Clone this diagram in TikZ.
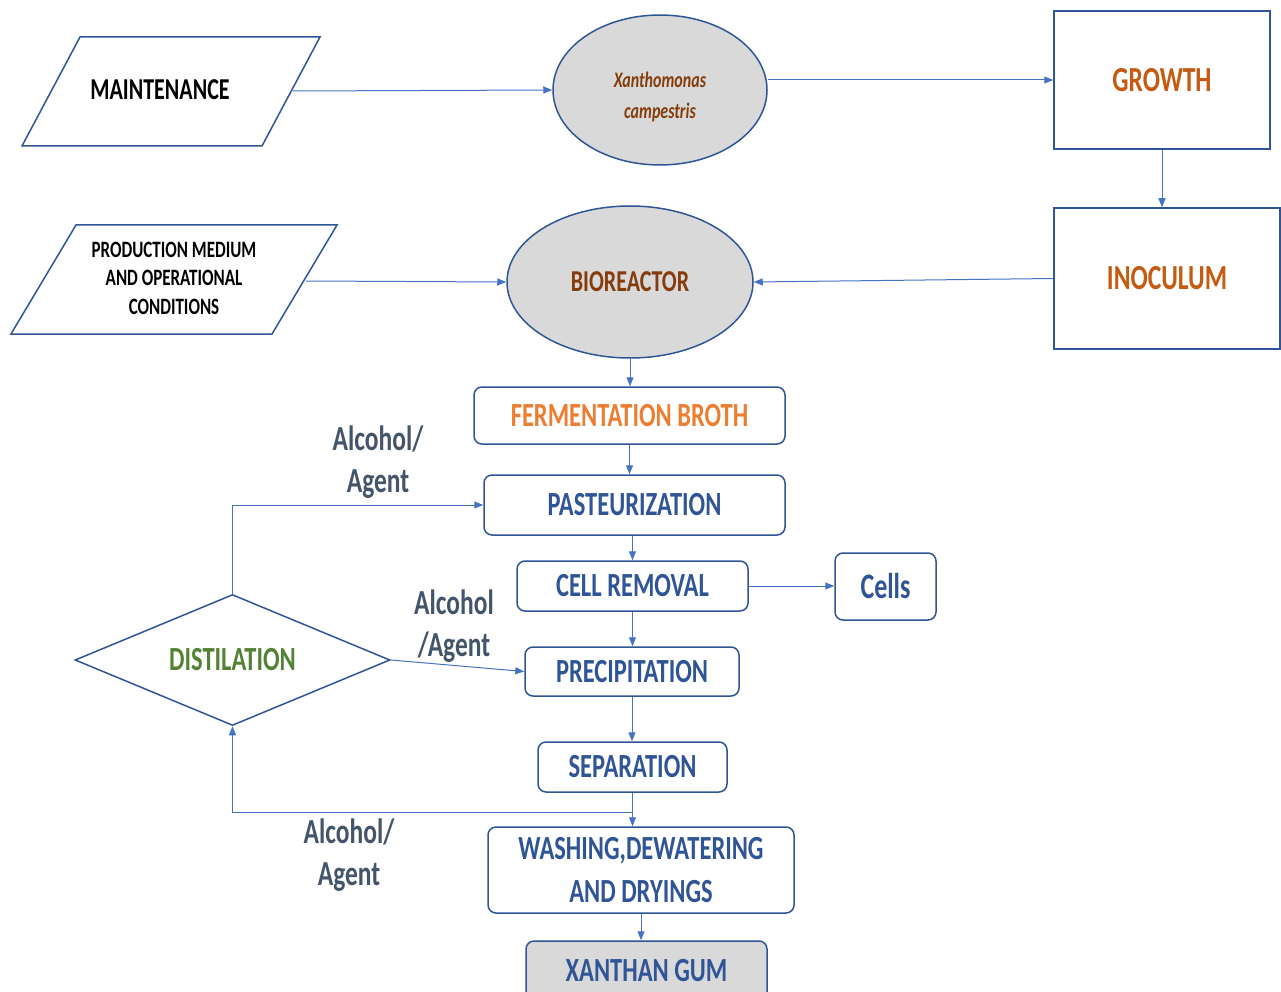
\documentclass[tikz,border=0pt]{standalone}
\usepackage{fontspec}
\usepackage{graphicx}
\setmainfont{Carlito}
\usetikzlibrary{shapes.geometric,arrows.meta,calc}
\definecolor{bdr}{HTML}{2F5597}
\definecolor{arc}{HTML}{4472C4}
\definecolor{btxt}{HTML}{2F5597}
\definecolor{otxt}{HTML}{C55A11}
\definecolor{brtxt}{HTML}{843C0C}
\definecolor{ftxt}{HTML}{ED7D31}
\definecolor{gtxt}{HTML}{548235}
\definecolor{ltxt}{HTML}{44546A}
\definecolor{gfill}{HTML}{D9D9D9}
\newcommand{\T}[1]{\scalebox{1}[1.38]{#1}}
\tikzset{
  rbox/.style={draw=bdr, line width=1.5pt, rounded corners=8pt, inner sep=0pt, fill=white,
    text=btxt, align=center, font=\bfseries\fontsize{24.5}{43}\selectfont},
  sqbox/.style={draw=bdr, line width=1.5pt, inner sep=0pt, fill=white,
    text=otxt, font=\bfseries\fontsize{25.5}{30}\selectfont},
  ell/.style={ellipse, draw=bdr, line width=1.5pt, fill=gfill, inner sep=0pt, align=center},
  pgram/.style={draw=bdr, line width=1.5pt},
  lbl/.style={text=ltxt, align=center, inner sep=0pt, font=\bfseries\fontsize{25.5}{42}\selectfont},
  arr/.style={draw=arc, line width=1pt, -{Triangle[length=9pt,width=7pt]}},
}
\begin{document}
\begin{tikzpicture}[x=1pt,y=-1pt]
\useasboundingbox (0,0) rectangle (1281,992);

% parallelograms
\draw[pgram] (80,37) -- (320,37) -- (262,146) -- (22,146) -- cycle;
\node[inner sep=0pt, font=\bfseries\fontsize{22}{26}\selectfont] (maint) at (160,90) {\T{MAINTENANCE}};
\coordinate (mE) at (293,91);

\draw[pgram] (76,225) -- (337,225) -- (272,334) -- (11,334) -- cycle;
\node[inner sep=0pt, align=center, font=\bfseries\fontsize{17}{28.5}\selectfont] (prod) at (174,278)
  {\T{PRODUCTION MEDIUM}\\\T{AND OPERATIONAL}\\\T{CONDITIONS}};
\coordinate (pE) at (306,281);

% ellipses
\node[ell, minimum width=214pt, minimum height=150pt] (xan) at (660,90) {};
\node[inner sep=0pt, align=center, text=brtxt,
  font=\bfseries\itshape\fontsize{16}{31}\selectfont] (xant) at (660,97)
  {\T{Xanthomonas}\\\T{campestris}};
\node[ell, minimum width=246pt, minimum height=152pt, text=brtxt,
  font=\bfseries\fontsize{22}{26}\selectfont] (bio) at (630,282) {\T{BIOREACTOR}};

% square boxes
\node[sqbox, minimum width=216pt, minimum height=138pt] (grow) at (1162,80) {\T{GROWTH}};
\node[sqbox, minimum width=226pt, minimum height=141pt] (inoc) at (1167,278.5) {\T{INOCULUM}};

% process boxes
\node[rbox, minimum width=311pt, minimum height=57pt, text=ftxt] (ferm) at (629.5,415.5) {\T{FERMENTATION BROTH}};
\node[rbox, minimum width=301pt, minimum height=60pt] (past) at (634.5,505) {\T{PASTEURIZATION}};
\node[rbox, minimum width=231pt, minimum height=50pt] (cell) at (632.5,586) {\T{CELL REMOVAL}};
\node[rbox, minimum width=101pt, minimum height=67pt, font=\bfseries\fontsize{26}{30}\selectfont] (cells) at (885.5,586.5) {\T{Cells}};
\node[rbox, minimum width=214pt, minimum height=49pt] (prec) at (632,671.5) {\T{PRECIPITATION}};
\node[rbox, minimum width=189pt, minimum height=50pt] (sep) at (632.5,767) {\T{SEPARATION}};
\node[rbox, minimum width=306pt, minimum height=86pt] (wash) at (641,870) {\T{WASHING,DEWATERING}\\\T{AND DRYINGS}};
\node[rbox, minimum width=241pt, minimum height=60pt, fill=gfill] (gum) at (646.5,971) {\T{XANTHAN GUM}};

% diamond
\node[diamond, aspect=2.4, draw=bdr, line width=1.5pt, minimum width=315pt, minimum height=131pt, inner sep=0pt,
  text=gtxt, font=\bfseries\fontsize{24.5}{30}\selectfont] (dist) at (232.5,660) {\T{DISTILATION}};

% labels
\node[lbl] (l1) at (378,462) {\T{Alcohol/}\\\T{Agent}};
\node[lbl] (l2) at (454,626) {\T{Alcohol}\\\T{/Agent}};
\node[lbl] (l3) at (349,855) {\T{Alcohol/}\\\T{Agent}};

% connectors
\draw[arr] (mE) -- (xan.west);
\draw[arr] (xan.east |- grow.west) -- (grow.west);
\draw[arr] (grow.south) -- (grow.south |- inoc.north);
\draw[arr] (pE) -- (bio.west);
\draw[arr] (inoc.west) -- (bio.east);
\draw[arr] (bio.south) -- (bio.south |- ferm.north);
\draw[arr] (ferm.south) -- (ferm.south |- past.north);
\draw[arr] (past.south -| cell.north) -- (cell.north);
\draw[arr] (cell.south) -- (cell.south |- prec.north);
\draw[arr] (prec.south) -- (prec.south |- sep.north);
\draw[arr] (sep.south) -- (sep.south |- wash.north);
\draw[arr] (wash.south) -- (wash.south |- gum.north);
\draw[arr] (cell.east) -- (cell.east -| cells.west);
\coordinate (j) at (sep.south |- 0,812);
\draw[arr] (j) -| (dist.south);
\draw[arr] (dist.north) |- (past.west);
\draw[arr] (dist.east) -- (prec.west);
\end{tikzpicture}
\end{document}
